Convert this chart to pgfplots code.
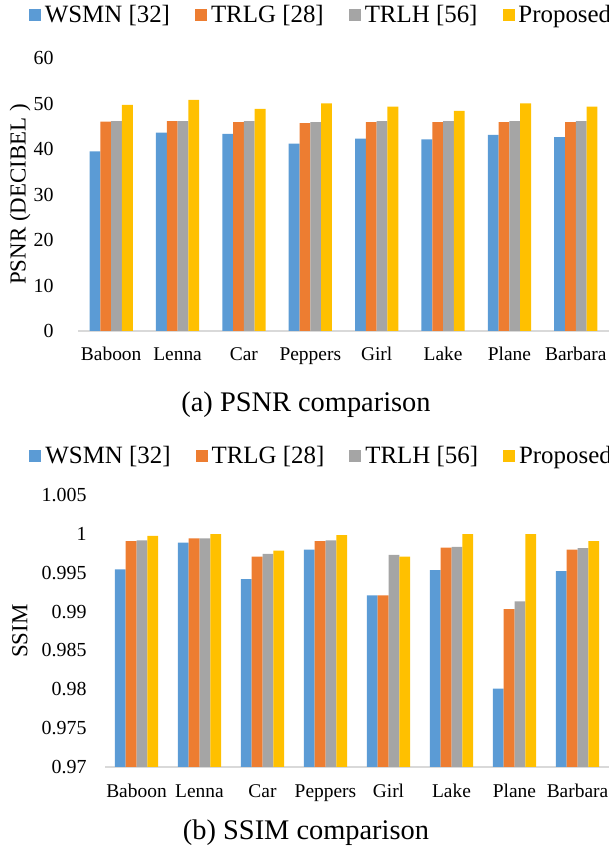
\documentclass[border=0pt]{standalone}
\usepackage{fontspec}
\setmainfont{Liberation Serif}
\usepackage{pgfplots}
\pgfplotsset{compat=1.18}
\definecolor{cA}{HTML}{5B9BD5}
\definecolor{cB}{HTML}{ED7D31}
\definecolor{cC}{HTML}{A5A5A5}
\definecolor{cD}{HTML}{FFC000}
\definecolor{axg}{HTML}{D9D9D9}
\pgfplotsset{
  mystyle/.style={
    scale only axis,
    ybar=0pt, bar width=10.8bp,
    xmin=-0.5, xmax=7.5,
    xtick={0,...,7},
    xticklabels={Baboon,Lenna,Car,Peppers,Girl,Lake,Plane,Barbara},
    axis x line*=bottom, axis y line*=left,
    x axis line style={draw=axg, line width=1.2bp, -},
    y axis line style={draw=none},
    major tick length=0pt,
    xticklabel style={font=\fontsize{19.5}{20}\selectfont, anchor=base, yshift=-30bp},
    yticklabel style={font=\fontsize{20}{20}\selectfont, anchor=east},
    /pgf/number format/assume math mode=true,
    legend columns=4,
    legend style={draw=none, fill=none, font=\fontsize{25}{25}\selectfont},
    legend image code/.code={\path[draw=none,fill=none] (-23bp,0) -- (14bp,0); \fill[#1,draw=none] (0bp,-6bp) rectangle (12bp,6bp);},
  }
}
\begin{document}
\begin{tikzpicture}
\useasboundingbox (0,0) rectangle (609bp,855bp);
\begin{axis}[mystyle,
  at={(78bp,524bp)}, anchor=south west,
  width=531bp, height=273bp,
  ymin=0, ymax=60, ytick={0,10,...,60},
  yticklabel style={xshift=-21bp},
  every axis y label/.style={at={(axis description cs:-0.109,0.5)}, rotate=90, anchor=center, font=\fontsize{23}{23}\selectfont},
  ylabel={PSNR (DECIBEL )},
  legend style={at={(axis description cs:0.436,1.158)}, anchor=center},
]
\addplot[fill=cA, draw=none] coordinates {(0,39.5) (1,43.6) (2,43.3) (3,41.2) (4,42.3) (5,42.1) (6,43.1) (7,42.6)};
\addplot[fill=cB, draw=none] coordinates {(0,46.0) (1,46.1) (2,45.9) (3,45.7) (4,45.9) (5,45.9) (6,45.9) (7,45.9)};
\addplot[fill=cC, draw=none] coordinates {(0,46.1) (1,46.1) (2,46.1) (3,45.9) (4,46.1) (5,46.1) (6,46.1) (7,46.1)};
\addplot[fill=cD, draw=none] coordinates {(0,49.7) (1,50.8) (2,48.8) (3,50.0) (4,49.3) (5,48.4) (6,50.0) (7,49.3)};
\legend{WSMN [32],TRLG [28],TRLH [56],Proposed}
\end{axis}
\node[font=\fontsize{28.5}{28.5}\selectfont] at (306bp,450bp) {(a) PSNR comparison};
\begin{axis}[mystyle,
  at={(105bp,88bp)}, anchor=south west,
  width=504bp, height=272bp,
  ymin=0.97, ymax=1.005,
  ytick={0.97,0.975,0.98,0.985,0.99,0.995,1,1.005},
  yticklabels={0.97,0.975,0.98,0.985,0.99,0.995,1,1.005},
  yticklabel style={xshift=-15bp},
  every axis y label/.style={at={(axis description cs:-0.169,0.5)}, rotate=90, anchor=center, font=\fontsize{23}{23}\selectfont},
  ylabel={SSIM},
  legend style={at={(axis description cs:0.407,1.143)}, anchor=center},
]
\addplot[fill=cA, draw=none] coordinates {(0,0.99543) (1,0.99887) (2,0.99418) (3,0.99796) (4,0.99208) (5,0.99534) (6,0.98009) (7,0.99522)};
\addplot[fill=cB, draw=none] coordinates {(0,0.99908) (1,0.99942) (2,0.99706) (3,0.99908) (4,0.99208) (5,0.99822) (6,0.99032) (7,0.99796)};
\addplot[fill=cC, draw=none] coordinates {(0,0.99917) (1,0.99942) (2,0.99741) (3,0.99917) (4,0.99728) (5,0.99831) (6,0.99131) (7,0.99818)};
\addplot[fill=cD, draw=none] coordinates {(0,0.99973) (1,0.99998) (2,0.99784) (3,0.99985) (4,0.99706) (5,0.99998) (6,0.99998) (7,0.99908)};
\legend{WSMN [32],TRLG [28],TRLH [56],Proposed}
\end{axis}
\node[font=\fontsize{28.5}{28.5}\selectfont] at (306bp,22bp) {(b) SSIM comparison};
\end{tikzpicture}
\end{document}
